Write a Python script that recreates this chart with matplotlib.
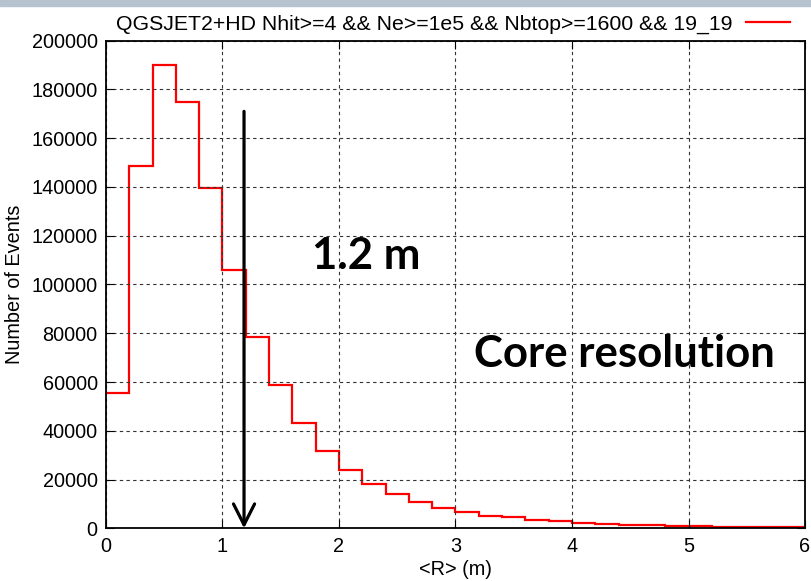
import matplotlib
matplotlib.use("Agg")
import matplotlib.pyplot as plt
import numpy as np
from matplotlib.patches import Rectangle

# histogram of <R>, bins of 0.2 m from 0 to 6 m
edges = np.arange(0, 6.01, 0.2)
counts = [55500, 148500, 190000, 175000, 139500, 106000, 78500, 58600, 43200, 31800,
          23800, 18200, 13900, 10700, 8400, 6600, 5200, 4500, 3400, 2900,
          2300, 1800, 1500, 1200, 1100, 800, 600, 500, 400, 350]
label = "QGSJET2+HD Nhit>=4 && Ne>=1e5 && Nbtop>=1600 && 19_19"
xticks = [0, 1, 2, 3, 4, 5, 6]
yticks = list(range(0, 200001, 20000))
arrow_x = 1.185
arrow_top = 171000

plt.rcParams['font.family'] = ['Liberation Sans', 'DejaVu Sans']

fig = plt.figure(figsize=(8.12, 5.81), dpi=100)
fig.patches.append(Rectangle((0, 0.99), 1, 0.01, transform=fig.transFigure,
                             color='#b6c2cd', zorder=0))
ax = fig.add_axes([0.1305, 0.0907, 0.8609, 0.8393])

ax.stairs(counts, edges, baseline=None, color='red', lw=1.6, label=label)

ax.annotate("", xy=(arrow_x, 0), xytext=(arrow_x, arrow_top),
            arrowprops=dict(arrowstyle='->,head_length=0.75,head_width=0.38',
                            lw=2.3, color='black', mutation_scale=20,
                            shrinkA=0, shrinkB=0))

ax.text(2.236, 106500, "1.2 m", fontsize=31.5, fontweight='bold', family='Lato', ha='center')
ax.text(4.446, 66200, "Core resolution", fontsize=31.5, fontweight='bold', family='Lato', ha='center')

ax.set_xlim(0, 6)
ax.set_ylim(0, 200000)
ax.set_xticks(xticks)
ax.set_yticks(yticks)
ax.tick_params(direction='in', length=6, top=True, right=True, labelsize=14.3, pad=6)
ax.grid(True, linestyle=(0, (3, 3)), color='#333333', lw=0.8)
for s in ax.spines.values():
    s.set_linewidth(1.3)

ax.set_xlabel("<R> (m)", fontsize=14.3, labelpad=3)
ax.set_ylabel("Number of Events", fontsize=14.3, labelpad=5)

ax.legend(loc='lower right', bbox_to_anchor=(0.982, 1.01), frameon=False,
          markerfirst=False, fontsize=15.3, handlelength=2.1, handletextpad=0.6,
          borderaxespad=0, borderpad=0.1)

plt.savefig("out.png", dpi=100)
